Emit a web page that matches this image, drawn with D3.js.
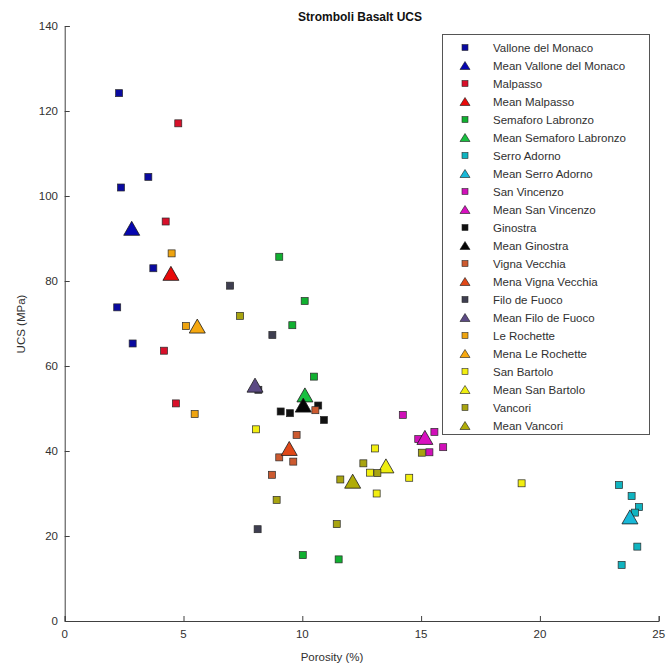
<!DOCTYPE html>
<html>
<head>
<meta charset="utf-8">
<script src="https://cdn.jsdelivr.net/npm/d3@7"></script>
<style>
  body { margin: 0; background: #fff; }
  svg { font-family: "Liberation Sans", Arial, Helvetica, sans-serif; }
</style>
</head>
<body>
<div id="chart"></div>
<script>
// porosity (%), UCS (MPa) for each site
var vallone = [[2.29, 124.2], [3.52, 104.5], [2.37, 102.0], [3.73, 83.0], [2.21, 73.8], [2.86, 65.3]];
var valloneMean = [2.82, 92.4];
var malpasso = [[4.78, 117.1], [4.25, 94.0], [4.18, 63.6], [4.68, 51.2]];
var malpassoMean = [4.47, 81.8];
var semaforo = [[9.03, 85.7], [10.1, 75.3], [9.58, 69.6], [10.49, 57.5], [10.02, 15.5], [11.53, 14.5]];
var semaforoMean = [10.11, 53.2];
var serro = [[23.33, 32.0], [23.86, 29.4], [24.17, 26.8], [24.0, 25.5], [24.1, 17.5], [23.44, 13.2]];
var serroMean = [23.79, 24.5];
var vincenzo = [[14.23, 48.5], [15.56, 44.5], [15.93, 40.9], [15.35, 39.7], [14.88, 42.8]];
var vincenzoMean = [15.16, 43.2];
var ginostra = [[9.09, 49.3], [9.48, 48.9], [10.67, 50.7], [10.91, 47.3]];
var ginostraMean = [10.04, 50.8];
var vigna = [[10.55, 49.6], [9.76, 43.8], [9.03, 38.5], [9.62, 37.5], [8.72, 34.4]];
var vignaMean = [9.45, 40.6];
var filo = [[6.96, 78.9], [8.74, 67.3], [8.15, 54.4], [8.12, 21.6]];
var filoMean = [8.01, 55.5];
var rochette = [[4.5, 86.5], [5.1, 69.4], [5.47, 48.7]];
var rochetteMean = [5.58, 69.4];
var bartolo = [[8.05, 45.1], [13.06, 40.6], [12.85, 34.9], [13.13, 30.0], [14.5, 33.7], [19.23, 32.4]];
var bartoloMean = [13.52, 36.5];
var vancori = [[7.38, 71.8], [8.92, 28.5], [11.6, 33.3], [12.57, 37.1], [13.16, 34.8], [15.03, 39.6], [11.45, 22.8]];
var vancoriMean = [12.12, 32.9];

var siteNames = ["Vallone del Monaco", "Malpasso", "Semaforo Labronzo", "Serro Adorno", "San Vincenzo",
                 "Ginostra", "Vigna Vecchia", "Filo de Fuoco", "Le Rochette", "San Bartolo", "Vancori"];
var meanNames = ["Mean Vallone del Monaco", "Mean Malpasso", "Mean Semaforo Labronzo", "Mean Serro Adorno",
                 "Mean San Vincenzo", "Mean Ginostra", "Mena Vigna Vecchia", "Mean Filo de Fuoco",
                 "Mena Le Rochette", "Mean San Bartolo", "Mean Vancori"];
var squareColors = ["#0a0aa0", "#d8102a", "#10b030", "#10b4c0", "#d010b8", "#111111",
                    "#cc5a30", "#3e3e50", "#eea410", "#f2ee10", "#a8a410"];
var meanColors = ["#0606b0", "#e80a0a", "#18c040", "#18b8d8", "#d810c0", "#050505",
                  "#e04818", "#5c4a84", "#f6a810", "#eeee10", "#b0ac08"];

var xTicks = [0, 5, 10, 15, 20, 25];
var yTicks = [0, 20, 40, 60, 80, 100, 120, 140];

var pointSets = [vallone, malpasso, semaforo, serro, vincenzo, ginostra, vigna, filo, rochette, bartolo, vancori];
var means = [valloneMean, malpassoMean, semaforoMean, serroMean, vincenzoMean, ginostraMean,
             vignaMean, filoMean, rochetteMean, bartoloMean, vancoriMean];

var width = 666,
    height = 667;

var svg = d3.select("#chart")
    .append("svg")
    .attr("width", width)
    .attr("height", height);

var x = d3.scaleLinear().domain([0, 25]).range([64.7, 658.7]);
var y = d3.scaleLinear().domain([0, 140]).range([621, 26]);

// axes, MATLAB style ticks pointing in
var xAxis = d3.axisTop(x).tickValues(xTicks).tickSize(5).tickFormat("");
var yAxis = d3.axisRight(y).tickValues(yTicks).tickSize(5).tickFormat("");

svg.append("g")
    .attr("transform", "translate(0," + y(0) + ")")
    .call(xAxis)
    .call(g => g.select(".domain").attr("stroke", "#404040"))
    .call(g => g.selectAll("line").attr("stroke", "#404040"));

svg.append("g")
    .attr("transform", "translate(" + x(0) + ",0)")
    .call(yAxis)
    .call(g => g.select(".domain").attr("stroke", "#404040"))
    .call(g => g.selectAll("line").attr("stroke", "#404040"));

svg.selectAll(".xlab")
    .data(xTicks)
    .enter()
    .append("text")
    .attr("x", d => x(d))
    .attr("y", 638)
    .attr("text-anchor", "middle")
    .style("font-size", "11.5px")
    .style("fill", "#303030")
    .text(d => d);

svg.selectAll(".ylab")
    .data(yTicks)
    .enter()
    .append("text")
    .attr("x", 58)
    .attr("y", d => y(d) + 4)
    .attr("text-anchor", "end")
    .style("font-size", "11.5px")
    .style("fill", "#303030")
    .text(d => d);

svg.append("text")
    .attr("x", 332)
    .attr("y", 661)
    .attr("text-anchor", "middle")
    .style("font-size", "11.5px")
    .style("fill", "#303030")
    .text("Porosity (%)");

svg.append("text")
    .attr("transform", "translate(25,324) rotate(-90)")
    .attr("text-anchor", "middle")
    .style("font-size", "11.5px")
    .style("fill", "#303030")
    .text("UCS (MPa)");

svg.append("text")
    .attr("x", 360)
    .attr("y", 21)
    .attr("text-anchor", "middle")
    .style("font-size", "12px")
    .style("font-weight", "bold")
    .style("fill", "#111")
    .text("Stromboli Basalt UCS");

function triangle(cx, cy, w, h) {
    return "M" + (cx - w / 2) + "," + (cy + h / 2) + "L" + cx + "," + (cy - h / 2) +
        "L" + (cx + w / 2) + "," + (cy + h / 2) + "Z";
}

// draw in legend order so later series sit on top
var marks = svg.append("g").attr("class", "marks");
pointSets.forEach(function(pts, i) {
    marks.append("g")
        .selectAll("rect")
        .data(pts)
        .enter()
        .append("rect")
        .attr("x", d => x(d[0]) - 3.5)
        .attr("y", d => y(d[1]) - 3.5)
        .attr("width", 7)
        .attr("height", 7)
        .style("fill", squareColors[i])
        .style("stroke", "#2a2a2a")
        .style("stroke-width", 0.7);

    marks.append("path")
        .datum(means[i])
        .attr("d", d => triangle(x(d[0]), y(d[1]), 16, 14))
        .style("fill", meanColors[i])
        .style("stroke", "#1a1a1a")
        .style("stroke-width", 0.8);
});

// legend
var legend = svg.append("g").attr("class", "legend");
legend.append("rect")
    .attr("x", 442.5)
    .attr("y", 34.5)
    .attr("width", 207)
    .attr("height", 400)
    .style("fill", "#fff")
    .style("stroke", "#555")
    .style("stroke-width", 1);

var entries = [];
siteNames.forEach(function(n, i) {
    entries.push({ name: n, kind: "square", color: squareColors[i] });
    entries.push({ name: meanNames[i], kind: "triangle", color: meanColors[i] });
});

var row = legend.selectAll(".entry")
    .data(entries)
    .enter()
    .append("g")
    .attr("transform", (d, i) => "translate(0," + (47.5 + i * 18) + ")");

row.filter(d => d.kind == "square")
    .append("rect")
    .attr("x", 462)
    .attr("y", -3)
    .attr("width", 6)
    .attr("height", 6)
    .style("fill", d => d.color)
    .style("stroke", "#2a2a2a")
    .style("stroke-width", 0.6);

row.filter(d => d.kind == "triangle")
    .append("path")
    .attr("d", triangle(465, 0, 10, 8))
    .style("fill", d => d.color)
    .style("stroke", "#1a1a1a")
    .style("stroke-width", 0.6);

row.append("text")
    .attr("x", 493)
    .attr("y", 4)
    .style("font-size", "11.5px")
    .style("fill", "#303030")
    .text(d => d.name);
</script>
</body>
</html>
